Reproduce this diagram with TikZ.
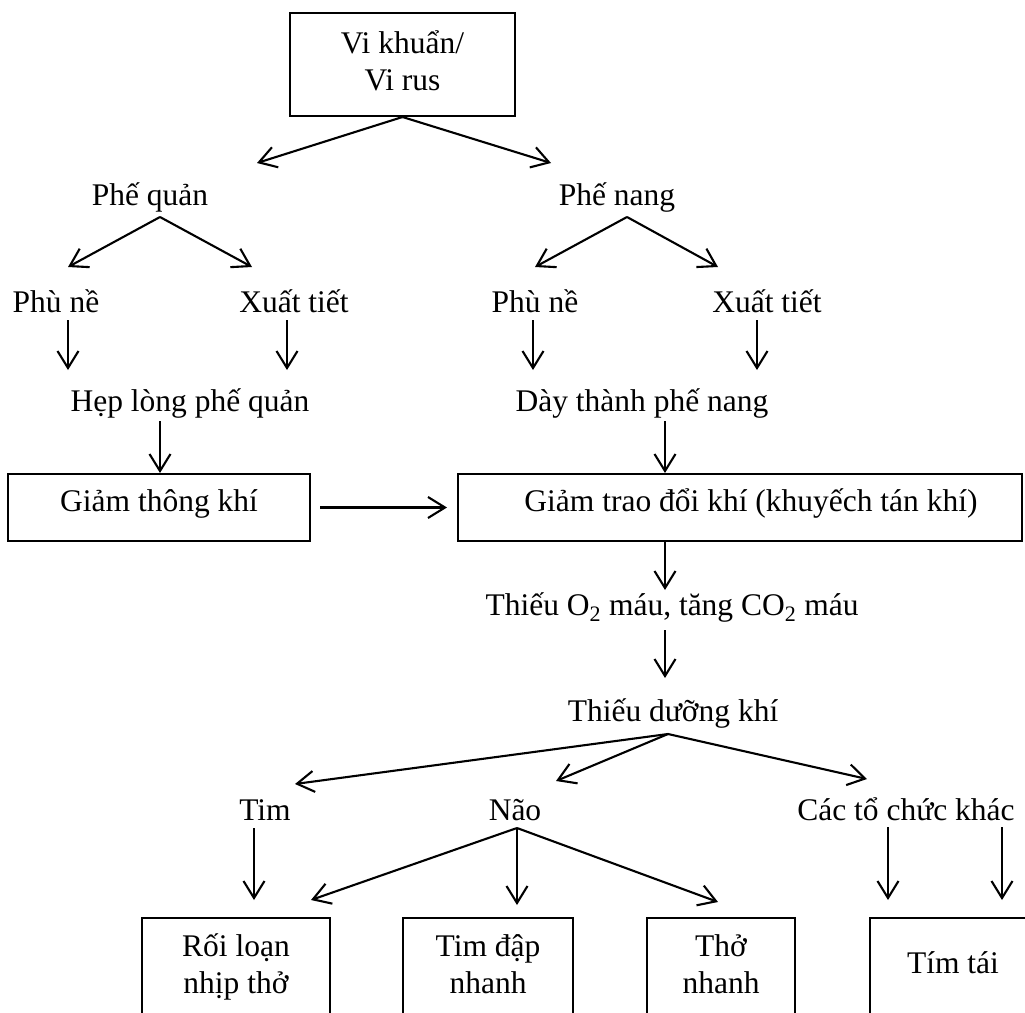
\documentclass[tikz,border=0pt]{standalone}
\usepackage{fontspec}
\setmainfont{Liberation Serif}
\usetikzlibrary{arrows.meta}
\begin{document}
\begin{tikzpicture}[x=1pt,y=-1pt,
  every node/.style={font=\fontsize{31.5}{37}\selectfont},
  txt/.style={inner sep=0pt, anchor=base},
  box/.style={draw, line width=2pt, inner sep=0pt, align=center},
  arr/.style={line width=2.1pt, -{Straight Barb[length=17pt,width=21pt,line width=2.1pt]}}]
\useasboundingbox (0,0) rectangle (1025,1012);
\clip (0,0) rectangle (1025,1012);
\fill[white] (0,0) rectangle (1025,1012);

% boxes
\node[box, minimum width=225pt, minimum height=103pt] (top) at (402.5,64.5)
  {\rule{0pt}{30pt}Vi khuẩn/\\Vi rus\rule[-16pt]{0pt}{16pt}};
\node[box, minimum width=302pt, minimum height=67pt] (g1) at (159,507.5)
  {\rule[-22pt]{0pt}{51pt}Giảm thông khí};
\node[box, minimum width=564pt, minimum height=67pt] (g2) at (740,507.5)
  {\rule[-22pt]{0pt}{51pt}\hspace*{22pt}Giảm trao đổi khí (khuyếch tán khí)};
\node[box, minimum width=188pt, minimum height=103pt] (b1) at (236,969.5)
  {\rule{0pt}{30pt}Rối loạn\\nhịp thở\rule[-20pt]{0pt}{20pt}};
\node[box, minimum width=170pt, minimum height=103pt] (b2) at (488,969.5)
  {\rule{0pt}{30pt}Tim đập\\nhanh\rule[-20pt]{0pt}{20pt}};
\node[box, minimum width=148pt, minimum height=103pt] (b3) at (721,969.5)
  {\rule{0pt}{30pt}Thở\\nhanh\rule[-20pt]{0pt}{20pt}};
\node[box, minimum width=166pt, minimum height=103pt] (b4) at (953,969.5)
  {\rule[-20pt]{0pt}{47pt}Tím tái};

% text nodes
\node[txt] (pq) at (150,205) {Phế quản};
\node[txt] (pn) at (617,205) {Phế nang};
\node[txt] (pn1) at (56,312) {Phù nề};
\node[txt] (xt1) at (294,312) {Xuất tiết};
\node[txt] (pn2) at (535,312) {Phù nề};
\node[txt] (xt2) at (767,312) {Xuất tiết};
\node[txt] (hep) at (190,411) {Hẹp lòng phế quản};
\node[txt] (day) at (642,411) {Dày thành phế nang};
\node[txt] (thieu) at (672,615) {Thiếu O\textsubscript{2} máu, tăng CO\textsubscript{2} máu};
\node[txt] (tdk) at (673,721) {Thiếu dưỡng khí};
\node[txt] (tim) at (265,820) {Tim};
\node[txt] (nao) at (515,820) {Não};
\node[txt] (cac) at (906,820) {Các tổ chức khác};

% arrow end points
\coordinate (t1) at (257,163);
\coordinate (t2) at (551,163);
\coordinate (pqA) at (160,217);
\coordinate (pqL) at (68,267);
\coordinate (pqR) at (252,267);
\coordinate (pnA) at (627,217);
\coordinate (pnL) at (535,267);
\coordinate (pnR) at (718,267);
\coordinate (v1s) at (68,320);  \coordinate (v1e) at (68,370);
\coordinate (v2s) at (287,320); \coordinate (v2e) at (287,370);
\coordinate (v3s) at (533,320); \coordinate (v3e) at (533,370);
\coordinate (v4s) at (757,320); \coordinate (v4e) at (757,370);
\coordinate (h1s) at (160,421);
\coordinate (h2s) at (665,421);
\coordinate (o2) at (665,590);
\coordinate (d1s) at (665,630);
\coordinate (d1e) at (665,678);
\coordinate (dA) at (668,734);
\coordinate (dL) at (295,784);
\coordinate (dM) at (556,781);
\coordinate (dR) at (867,779);
\coordinate (ts) at (254,828);  \coordinate (te) at (254,900);
\coordinate (nA) at (517,828);
\coordinate (nL) at (311,900);
\coordinate (nM) at (517,905);
\coordinate (nR) at (718,902);
\coordinate (c1s) at (888,827); \coordinate (c1e) at (888,900);
\coordinate (c2s) at (1002,827); \coordinate (c2e) at (1002,900);

% connectors
\draw[arr] (top.south) -- (t1);
\draw[arr] (top.south) -- (t2);
\draw[arr] (pqA) -- (pqL);
\draw[arr] (pqA) -- (pqR);
\draw[arr] (pnA) -- (pnL);
\draw[arr] (pnA) -- (pnR);
\draw[arr] (v1s) -- (v1e);
\draw[arr] (v2s) -- (v2e);
\draw[arr] (v3s) -- (v3e);
\draw[arr] (v4s) -- (v4e);
\draw[arr] (h1s) -- (h1s |- g1.north);
\draw[arr] (h2s) -- (h2s |- g2.north);
\draw[arr, shorten <=9pt, shorten >=10pt] (g1.east) -- (g2.west);
\draw[arr] (h2s |- g2.south) -- (o2);
\draw[arr] (d1s) -- (d1e);
\draw[arr] (dA) -- (dL);
\draw[arr] (dA) -- (dM);
\draw[arr] (dA) -- (dR);
\draw[arr] (ts) -- (te);
\draw[arr] (nA) -- (nL);
\draw[arr] (nA) -- (nM);
\draw[arr] (nA) -- (nR);
\draw[arr] (c1s) -- (c1e);
\draw[arr] (c2s) -- (c2e);
\end{tikzpicture}
\end{document}
